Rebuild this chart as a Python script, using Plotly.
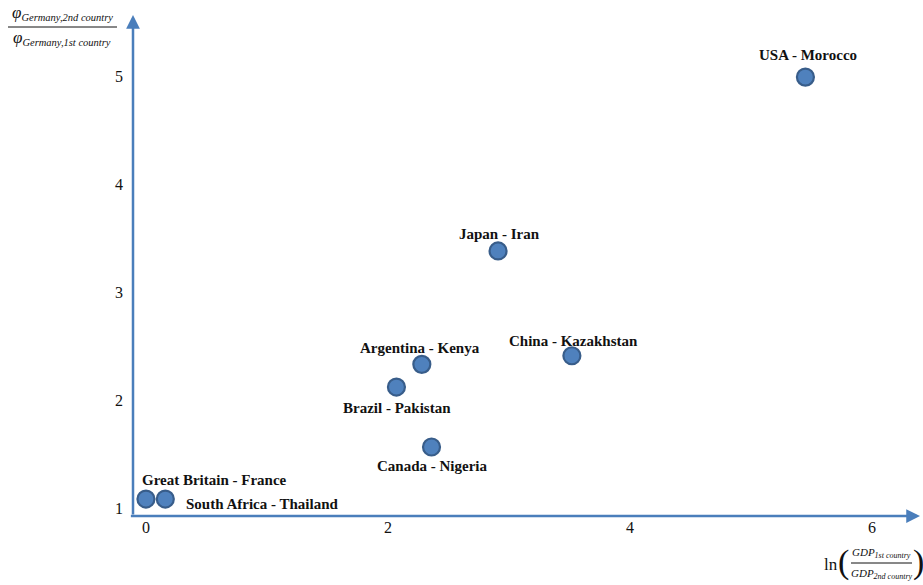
import plotly.graph_objects as go

pairs = ["Great Britain - France", "South Africa - Thailand", "Brazil - Pakistan",
         "Argentina - Kenya", "Canada - Nigeria", "Japan - Iran",
         "China - Kazakhstan", "USA - Morocco"]
ln_gdp_ratio = [0.0, 0.16, 2.07, 2.28, 2.36, 2.91, 3.52, 5.45]
phi_ratio = [1.083, 1.083, 2.12, 2.33, 1.565, 3.38, 2.41, 4.99]
x_ticks = [0, 2, 4, 6]
y_ticks = [1, 2, 3, 4, 5]

W, H = 923, 585
ML, MR, MT, MB = 133, 3, 15, 69
XR = [-0.107, 6.397]
YR = [0.926, 5.565]

# label placement (pixel offsets from the marker)
label_pos = {
    "Great Britain - France": dict(xshift=69, yshift=19, xanchor="center"),
    "South Africa - Thailand": dict(xshift=19, yshift=-5, xanchor="left"),
    "Brazil - Pakistan": dict(xshift=1, yshift=-21, xanchor="center"),
    "Argentina - Kenya": dict(xshift=-2, yshift=16, xanchor="center"),
    "Canada - Nigeria": dict(xshift=0, yshift=-19, xanchor="center"),
    "Japan - Iran": dict(xshift=1, yshift=17, xanchor="center"),
    "China - Kazakhstan": dict(xshift=2, yshift=15, xanchor="center"),
    "USA - Morocco": dict(xshift=3, yshift=22, xanchor="center"),
}

SERIF = "Liberation Serif, Times New Roman, serif"
BLUE = "#4F81BD"
EDGE = "#385D8A"
AXC = "#4A7EBB"

fig = go.Figure()
fig.add_trace(go.Scatter(
    x=ln_gdp_ratio, y=phi_ratio, mode="markers",
    marker=dict(size=17, color=BLUE, line=dict(color=EDGE, width=2.2)),
    hovertext=pairs, hoverinfo="text", cliponaxis=False,
))

def px(xp, yp):
    return (xp - ML) / (W - ML - MR), (H - MB - yp) / (H - MT - MB)

ann = []
for name, xv, yv in zip(pairs, ln_gdp_ratio, phi_ratio):
    p = label_pos[name]
    ann.append(dict(x=xv, y=yv, xref="x", yref="y", text="<b>" + name + "</b>",
                    showarrow=False, xanchor=p["xanchor"], yanchor="middle",
                    xshift=p["xshift"], yshift=p["yshift"],
                    font=dict(family=SERIF, size=15, color="#111111")))

# axis arrows
ann.append(dict(x=XR[0], y=YR[1], ax=XR[0], ay=YR[0], xref="x", yref="y",
                axref="x", ayref="y", showarrow=True, arrowhead=2, arrowsize=1.1,
                arrowwidth=2.5, arrowcolor=AXC, text=""))
ann.append(dict(x=XR[1], y=YR[0], ax=XR[0] - 0.03, ay=YR[0], xref="x", yref="y",
                axref="x", ayref="y", showarrow=True, arrowhead=2, arrowsize=1.1,
                arrowwidth=2.5, arrowcolor=AXC, text=""))

tfont = dict(family=SERIF, size=13, color="#111111")
# y-axis title (fraction)
x0, y0 = px(62, 13)
ann.append(dict(x=x0, y=y0, xref="paper", yref="paper", showarrow=False,
                text="<i><span style='font-size:17px'>φ</span><sub><span style='font-size:10.5px'>Germany,2nd country</span></sub></i>",
                font=tfont, xanchor="center", yanchor="middle"))
x0, y0 = px(62, 38)
ann.append(dict(x=x0, y=y0, xref="paper", yref="paper", showarrow=False,
                text="<i><span style='font-size:17px'>φ</span><sub><span style='font-size:10.5px'>Germany,1st country</span></sub></i>",
                font=tfont, xanchor="center", yanchor="middle"))
# x-axis title
gfont = dict(family=SERIF, size=11, color="#111111")
x0, y0 = px(881, 553)
ann.append(dict(x=x0, y=y0, xref="paper", yref="paper", showarrow=False,
                text="<i>GDP<sub><span style='font-size:8px'>1st country</span></sub></i>",
                font=gfont, xanchor="center", yanchor="middle"))
x0, y0 = px(881, 574)
ann.append(dict(x=x0, y=y0, xref="paper", yref="paper", showarrow=False,
                text="<i>GDP<sub><span style='font-size:8px'>2nd country</span></sub></i>",
                font=gfont, xanchor="center", yanchor="middle"))
x0, y0 = px(831, 564)
ann.append(dict(x=x0, y=y0, xref="paper", yref="paper", showarrow=False,
                text="ln", font=dict(family=SERIF, size=17, color="#111111"),
                xanchor="center", yanchor="middle"))
x0, y0 = px(843, 562)
ann.append(dict(x=x0, y=y0, xref="paper", yref="paper", showarrow=False,
                text="(", font=dict(family=SERIF, size=34, color="#111111"),
                xanchor="center", yanchor="middle"))
x0, y0 = px(918, 562)
ann.append(dict(x=x0, y=y0, xref="paper", yref="paper", showarrow=False,
                text=")", font=dict(family=SERIF, size=34, color="#111111"),
                xanchor="center", yanchor="middle"))

shapes = []
a0, b0 = px(8, 27)
a1, _ = px(117, 27)
shapes.append(dict(type="line", xref="paper", yref="paper", x0=a0, x1=a1, y0=b0, y1=b0,
                   line=dict(color="#111111", width=1)))
a0, b0 = px(851, 563)
a1, _ = px(912, 563)
shapes.append(dict(type="line", xref="paper", yref="paper", x0=a0, x1=a1, y0=b0, y1=b0,
                   line=dict(color="#111111", width=1)))

fig.update_layout(
    width=W, height=H, margin=dict(l=ML, r=MR, t=MT, b=MB),
    paper_bgcolor="white", plot_bgcolor="white", showlegend=False,
    annotations=ann, shapes=shapes,
    xaxis=dict(range=XR, tickvals=x_ticks, showgrid=False, zeroline=False,
               showline=False, ticks="", tickfont=dict(family=SERIF, size=16, color="#111111")),
    yaxis=dict(range=YR, tickvals=y_ticks, showgrid=False, zeroline=False,
               showline=False, ticks="", ticklabelstandoff=9,
               tickfont=dict(family=SERIF, size=16, color="#111111")),
)
fig.write_html("out.html")
